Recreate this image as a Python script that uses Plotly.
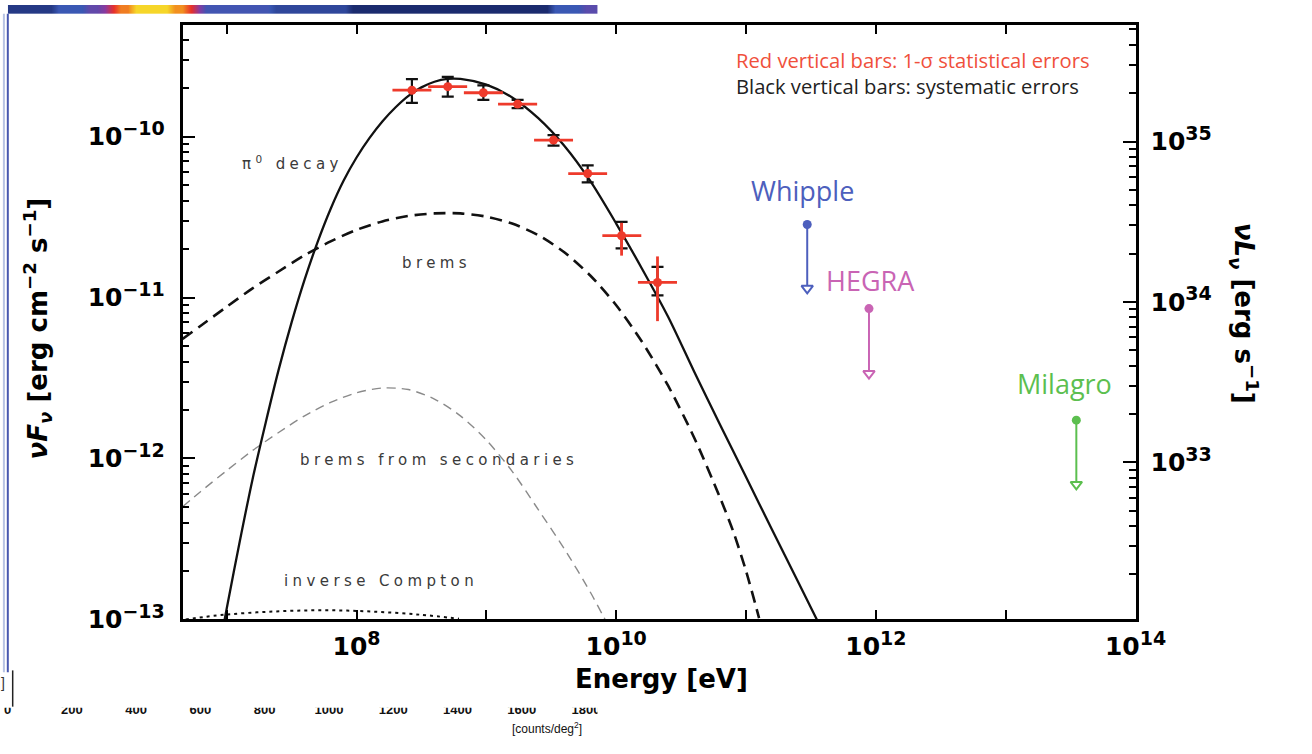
import numpy as np
import plotly.graph_objects as go

W, H = 1312, 754

# ---------------- data ----------------
# measured spectral points (nuF_nu, erg cm^-2 s^-1)
E_center = [2.67e8, 5.04e8, 9.48e8, 1.74e9, 3.29e9, 6.03e9, 1.10e10, 2.08e10]
E_lo = [1.89e8, 3.56e8, 6.71e8, 1.23e9, 2.33e9, 4.27e9, 7.82e9, 1.47e10]
E_hi = [3.77e8, 7.11e8, 1.34e9, 2.46e9, 4.65e9, 8.51e9, 1.56e10, 2.94e10]
flux = [1.94e-10, 2.04e-10, 1.87e-10, 1.59e-10, 9.5e-11, 5.89e-11, 2.42e-11, 1.24e-11]
stat_hi = [2.02e-10, 2.12e-10, 1.94e-10, 1.64e-10, 9.9e-11, 6.2e-11, 2.91e-11, 1.80e-11]
stat_lo = [1.86e-10, 1.96e-10, 1.80e-10, 1.54e-10, 9.1e-11, 5.6e-11, 1.82e-11, 7.13e-12]
sys_hi = [2.27e-10, 2.35e-10, 2.08e-10, 1.69e-10, 1.02e-10, 6.62e-11, 2.95e-11, 1.55e-11]
sys_lo = [1.62e-10, 1.77e-10, 1.69e-10, 1.50e-10, 8.77e-11, 5.19e-11, 2.02e-11, 1.03e-11]

# model components
pi0_E = [9.55e6, 1.0e7, 1.26e7, 1.58e7, 2.0e7, 2.51e7, 3.16e7, 3.98e7, 5.01e7, 6.31e7, 7.94e7, 1.0e8,
         1.26e8, 1.58e8, 2.0e8, 2.51e8, 3.16e8, 3.98e8, 5.01e8, 6.31e8, 1.0e9, 1.58e9, 2.51e9, 3.98e9,
         6.31e9, 1.0e10, 1.58e10, 2.51e10, 3.98e10, 6.31e10, 1.0e11, 1.58e11, 2.51e11, 3.55e11]
pi0_F = [9.6e-14, 1.17e-13, 3.05e-13, 7.41e-13, 1.68e-12, 3.55e-12, 7.0e-12, 1.29e-11, 2.21e-11, 3.55e-11,
         5.31e-11, 7.41e-11, 9.8e-11, 1.24e-10, 1.52e-10, 1.79e-10, 2.02e-10, 2.19e-10, 2.28e-10, 2.28e-10,
         2.10e-10, 1.75e-10, 1.30e-10, 8.77e-11, 5.30e-11, 2.88e-11, 1.51e-11, 7.59e-12, 3.47e-12,
         1.62e-12, 7.67e-13, 3.63e-13, 1.72e-13, 9.8e-14]

brems_E = [4.57e6, 6.31e6, 1.0e7, 1.58e7, 2.51e7, 3.98e7, 6.31e7, 1.0e8, 1.58e8, 2.51e8, 3.98e8, 6.31e8,
           1.0e9, 1.58e9, 2.51e9, 3.98e9, 6.31e9, 1.0e10, 1.58e10, 2.51e10, 3.98e10, 6.31e10, 7.94e10,
           1.0e11, 1.26e11]
brems_F = [5.52e-12, 6.68e-12, 8.75e-12, 1.14e-11, 1.45e-11, 1.83e-11, 2.23e-11, 2.63e-11, 2.97e-11,
           3.21e-11, 3.33e-11, 3.33e-11, 3.18e-11, 2.88e-11, 2.44e-11, 1.91e-11, 1.37e-11, 8.95e-12,
           5.31e-12, 2.83e-12, 1.35e-12, 5.70e-13, 3.55e-13, 2.00e-13, 1.02e-13]

sec_E = [4.57e6, 6.31e6, 1.0e7, 1.58e7, 2.51e7, 3.98e7, 6.31e7, 1.0e8, 1.58e8, 2.51e8, 3.98e8, 6.31e8,
         1.0e9, 1.58e9, 2.51e9, 3.98e9, 6.31e9, 7.94e9, 8.32e9]
sec_F = [5.01e-13, 6.24e-13, 8.41e-13, 1.12e-12, 1.45e-12, 1.84e-12, 2.23e-12, 2.56e-12, 2.74e-12,
         2.68e-12, 2.34e-12, 1.84e-12, 1.30e-12, 8.32e-13, 4.81e-13, 2.75e-13, 1.48e-13, 1.05e-13, 9.8e-14]

ic_E = [4.83e6, 9.66e6, 2.30e7, 5.46e7, 1.30e8, 3.08e8, 6.15e8]
ic_F = [1.00e-13, 1.07e-13, 1.12e-13, 1.14e-13, 1.12e-13, 1.07e-13, 1.01e-13]

# TeV upper limits
ul_names = ["Whipple", "HEGRA", "Milagro"]
ul_E = [2.96e11, 8.85e11, 3.50e13]
ul_F = [2.84e-11, 8.53e-12, 1.73e-12]
ul_tip = [1.14e-11, 3.37e-12, 6.9e-13]
ul_colors = ["#4d5fbd", "#c964b4", "#5cbf4f"]

# axis ticks
x_major = [1e8, 1e10, 1e12, 1e14]
x_major_exp = ["8", "10", "12", "14"]
x_minor = [1e7, 1e9, 1e11, 1e13]
y_major = [1e-13, 1e-12, 1e-11, 1e-10]
y_major_exp = ["\u221213", "\u221212", "\u221211", "\u221210"]
y2_major = [1e33, 1e34, 1e35]
y2_major_exp = ["33", "34", "35"]

# background artefacts: colour strip and clipped count-map scale
strip_vals = [0.15, 0.15, 0.15, 0.15, 0.15, 0.15, 0.3, 0.3, 0.3, 0.3, 0.4, 0.4, 0.5, 0.62, 0.75, 0.75,
              0.95, 0.95, 0.95, 0.95, 0.95, 0.78, 0.78, 0.65, 0.52, 0.32, 0.32, 0.32, 0.32, 0.32, 0.32,
              0.32, 0.32, 0.32, 0.22, 0.22, 0.22, 0.22, 0.22, 0.22, 0.22, 0.22, 0.22, 0.22, 0.08, 0.08,
              0.08, 0.08, 0.08, 0.08, 0.08, 0.08, 0.08, 0.08, 0.08, 0.08, 0.08, 0.08, 0.08, 0.08, 0.08,
              0.08, 0.08, 0.08, 0.08, 0.08, 0.08, 0.08, 0.08, 0.08, 0.3, 0.3, 0.3, 0.3, 0.38, 0.38]
count_ticks = [0, 200, 400, 600, 800, 1000, 1200, 1400, 1600, 1800]

# ---------------- figure ----------------
def pxx(x):
    return x / W

def pyy(y):
    return 1 - y / H

def power_label(exp):
    return '10<sup><span style="font-size:19px">' + exp + '</span></sup>'

RED = "#ee3a2b"
fig = go.Figure()

# model curves
fig.add_trace(go.Scatter(x=sec_E, y=sec_F, mode="lines",
                         line=dict(color="#8a8a8a", width=1.4, dash="9px,6px", shape="spline", smoothing=0.8),
                         hoverinfo="skip"))
fig.add_trace(go.Scatter(x=ic_E, y=ic_F, mode="lines",
                         line=dict(color="#111", width=2, dash="3px,4px", shape="spline"), hoverinfo="skip"))
fig.add_trace(go.Scatter(x=brems_E, y=brems_F, mode="lines",
                         line=dict(color="#111", width=2.6, dash="12px,7px", shape="spline", smoothing=0.8),
                         hoverinfo="skip"))
fig.add_trace(go.Scatter(x=pi0_E, y=pi0_F, mode="lines",
                         line=dict(color="#111", width=2.3, shape="spline", smoothing=0.8), hoverinfo="skip"))

# systematic (black) error bars
fig.add_trace(go.Scatter(
    x=E_center, y=flux, mode="markers", marker=dict(size=2, color="rgba(0,0,0,0)"),
    error_y=dict(type="data", symmetric=False,
                 array=[h - f for h, f in zip(sys_hi, flux)],
                 arrayminus=[f - l for f, l in zip(flux, sys_lo)],
                 color="#111", thickness=2.2, width=6),
    hoverinfo="skip"))

# statistical (red) error bars with energy bins
fig.add_trace(go.Scatter(
    x=E_center, y=flux, mode="markers", marker=dict(size=9, color=RED),
    error_x=dict(type="data", symmetric=False,
                 array=[h - e for h, e in zip(E_hi, E_center)],
                 arrayminus=[e - l for e, l in zip(E_center, E_lo)],
                 color=RED, thickness=2.8, width=0),
    error_y=dict(type="data", symmetric=False,
                 array=[h - f for h, f in zip(stat_hi, flux)],
                 arrayminus=[f - l for f, l in zip(flux, stat_lo)],
                 color=RED, thickness=2.8, width=0),
    hoverinfo="skip"))

# upper limits
for name, e, f, t, c in zip(ul_names, ul_E, ul_F, ul_tip, ul_colors):
    fig.add_trace(go.Scatter(x=[e, e], y=[f, t], mode="lines", line=dict(color=c, width=2), hoverinfo="skip"))
    fig.add_trace(go.Scatter(x=[e], y=[f], mode="markers", marker=dict(symbol="circle", size=9, color=c),
                             hoverinfo="skip"))
    fig.add_trace(go.Scatter(x=[e], y=[t], mode="markers",
                             marker=dict(symbol="triangle-down", size=10, color="white", line=dict(color=c, width=2)),
                             hoverinfo="skip"))

# empty trace so that the right-hand luminosity axis is drawn
fig.add_trace(go.Scatter(x=[], y=[], yaxis="y2", hoverinfo="skip"))

# colour strip (top)
fig.add_trace(go.Heatmap(z=[strip_vals], xaxis="x3", yaxis="y3", showscale=False, zsmooth="best",
                         zmin=0, zmax=1, hoverinfo="skip",
                         colorscale=[[0, "#101a55"], [0.3, "#3a58b4"], [0.5, "#8a3aa0"],
                                     [0.63, "#e8302a"], [0.78, "#f29020"], [1, "#f7ea2c"]]))

# clipped count scale (bottom left)
fig.add_trace(go.Scatter(x=count_ticks, y=[29] * len(count_ticks), mode="text",
                         text=[str(v) for v in count_ticks], xaxis="x4", yaxis="y4",
                         textfont=dict(family="Liberation Sans", size=13, color="#111", weight="bold"),
                         cliponaxis=True, hoverinfo="skip"))

def minor_log(lo, hi):
    vals = []
    for n in range(lo, hi):
        for k in range(2, 10):
            vals.append(k * 10.0 ** n)
    return vals

tick_font = dict(family="DejaVu Sans", size=25, color="black", weight="bold")

fig.update_layout(
    width=W, height=H, margin=dict(l=0, r=0, t=0, b=0),
    paper_bgcolor="white", plot_bgcolor="white", showlegend=False,
    xaxis=dict(type="log", range=[6.66, 14.0], domain=[pxx(187), pxx(1163)],
               showline=True, linecolor="black", linewidth=2.5, mirror="allticks",
               ticks="inside", ticklen=10, tickwidth=2, tickcolor="black",
               tickvals=x_major, ticktext=[power_label(s) for s in x_major_exp], tickfont=tick_font,
               ticklabelstandoff=3,
               minor=dict(tickvals=x_minor, ticks="inside", ticklen=6, tickwidth=1.5, tickcolor="black"),
               showgrid=False, zeroline=False, anchor="y"),
    yaxis=dict(type="log", range=[-13.0, -9.304], domain=[pyy(632), pyy(25)],
               showline=True, linecolor="black", linewidth=2.5, mirror=True,
               ticks="inside", ticklen=13, tickwidth=2, tickcolor="black",
               tickvals=y_major, ticktext=[power_label(s) for s in y_major_exp], tickfont=tick_font,
               ticklabelstandoff=10,
               minor=dict(tickvals=minor_log(-13, -9), ticks="inside", ticklen=7, tickwidth=1.5, tickcolor="black"),
               showgrid=False, zeroline=False, anchor="x"),
    yaxis2=dict(type="log", range=[32.02, 35.73], overlaying="y", side="right", anchor="x",
                showline=False, ticks="inside", ticklen=13, tickwidth=2, tickcolor="black",
                tickvals=y2_major, ticktext=[power_label(s) for s in y2_major_exp], tickfont=tick_font,
                ticklabelstandoff=14,
                minor=dict(tickvals=minor_log(32, 36), ticks="inside", ticklen=7, tickwidth=1.5, tickcolor="black"),
                showgrid=False, zeroline=False),
    xaxis3=dict(domain=[pxx(8), pxx(612)], anchor="y3", visible=False, range=[-0.5, len(strip_vals) - 0.5]),
    yaxis3=dict(domain=[pyy(14), pyy(5)], anchor="x3", visible=False, range=[-0.5, 0.5]),
    xaxis4=dict(domain=[0, pxx(612)], anchor="y4", visible=False, range=[-24, 1836]),
    yaxis4=dict(domain=[0, pyy(722)], anchor="x4", visible=False, range=[0, 32]),
)

# framing artefacts of the screenshot
shapes = [
    dict(type="line", xref="paper", yref="paper", x0=pxx(4), x1=pxx(4), y0=pyy(14), y1=pyy(686),
         line=dict(color="#b8c4e4", width=2)),
    dict(type="line", xref="paper", yref="paper", x0=pxx(8), x1=pxx(8), y0=pyy(14), y1=pyy(686),
         line=dict(color="#4858b0", width=2)),
    dict(type="line", xref="paper", yref="paper", x0=pxx(13), x1=pxx(13), y0=pyy(684), y1=pyy(721),
         line=dict(color="#222", width=1.5)),
]
fig.update_layout(shapes=shapes)

ann = []
# axis titles
ann.append(dict(xref="paper", yref="paper", x=pxx(678), y=pyy(693), xanchor="center", yanchor="middle",
                text="Energy [eV]", showarrow=False,
                font=dict(family="DejaVu Sans", size=26, color="black", weight="bold")))
ann.append(dict(xref="paper", yref="paper", x=pxx(38), y=pyy(335), xanchor="center", yanchor="middle",
                textangle=-90, showarrow=False,
                text="<i>\u03bdF</i><sub><i>\u03bd</i></sub> [erg cm<sup>\u22122</sup> s<sup>\u22121</sup>]",
                font=dict(family="DejaVu Sans", size=26, color="black", weight="bold")))
ann.append(dict(xref="paper", yref="paper", x=pxx(1274), y=pyy(320), xanchor="center", yanchor="middle",
                textangle=90, showarrow=False,
                text="<i>\u03bdL</i><sub><i>\u03bd</i></sub> [erg s<sup>\u22121</sup>]",
                font=dict(family="DejaVu Sans", size=26, color="black", weight="bold")))

# component labels (data coordinates)
comp_labels = [("\u03c0<sup>0</sup> decay", 3.2e7, 6.8e-11),
               ("brems", 4.1e8, 1.63e-11),
               ("brems from secondaries", 4.35e8, 9.8e-13),
               ("inverse Compton", 1.54e8, 1.73e-13)]
for txt, e, f in comp_labels:
    ann.append(dict(xref="x", yref="y", x=np.log10(e), y=np.log10(f), showarrow=False,
                    xanchor="center", yanchor="middle",
                    text='<span style="letter-spacing:4.4px">' + txt + '</span>',
                    font=dict(family="DejaVu Sans", size=15, color="#3a3a3a")))

# upper-limit labels
ul_shift = [(-5, 34), (2, 28), (-12, 37)]
for name, e, f, c, (dx, dy) in zip(ul_names, ul_E, ul_F, ul_colors, ul_shift):
    ann.append(dict(xref="x", yref="y", x=np.log10(e), y=np.log10(f), xshift=dx, yshift=dy,
                    xanchor="center", yanchor="middle",
                    showarrow=False, text=name, font=dict(family="Open Sans", size=27, color=c)))

# error-bar notes
ann.append(dict(xref="paper", yref="paper", x=pxx(752), y=pyy(61), xanchor="left", yanchor="middle",
                showarrow=False, text="Red vertical bars: 1-\u03c3 statistical errors",
                font=dict(family="Open Sans", size=20.2, color="#f0503c", weight=500)))
ann.append(dict(xref="paper", yref="paper", x=pxx(752), y=pyy(88), xanchor="left", yanchor="middle",
                showarrow=False, text="Black vertical bars: systematic errors",
                font=dict(family="Open Sans", size=20.2, color="#222", weight=500)))

# bottom-left artefact text
ann.append(dict(xref="paper", yref="paper", x=pxx(560), y=pyy(743), xanchor="center", yanchor="middle",
                showarrow=False, text="[counts/deg<sup>2</sup>]",
                font=dict(family="Liberation Sans", size=12, color="#111")))
ann.append(dict(xref="paper", yref="paper", x=pxx(3), y=pyy(697), xanchor="center", yanchor="middle",
                showarrow=False, text="]", font=dict(family="Liberation Sans", size=14, color="#333")))

fig.update_layout(annotations=ann)
fig.write_html("out.html")
